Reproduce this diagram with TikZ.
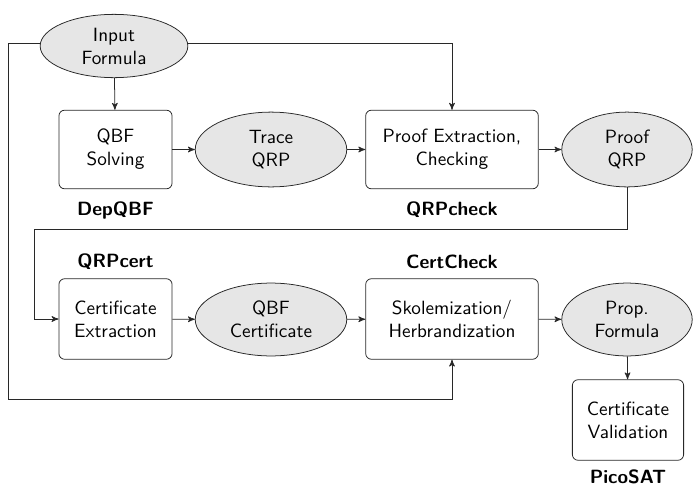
\documentclass[tikz,border=0pt]{standalone}
\usepackage{tikz}
\usetikzlibrary{arrows,shapes.geometric,positioning}
\definecolor{datafill}{RGB}{230,230,230}
\definecolor{linegray}{RGB}{40,40,40}

\tikzset{
	proc/.style={draw=linegray, rounded corners=3pt, align=center, font=\sffamily, inner sep=0pt, minimum height=41pt},
	data/.style={ellipse, draw=linegray, fill=datafill, align=center, font=\sffamily, inner sep=0pt},
	tool/.style={font=\sffamily\bfseries},
	flow/.style={->, >=stealth', draw=linegray}
}

\begin{document}
\begin{tikzpicture}[x=0.018326cm, y=-0.018326cm]
		\useasboundingbox (0,0) rectangle (693,486);
		% first row
		\node[data, minimum width=77pt, minimum height=33pt] (inp) at (114,46) {Input\\Formula};
		\node[proc, minimum width=59pt] (solve) at (115.5,149.5) {QBF\\Solving};
		\node[data, minimum width=79pt, minimum height=39pt] (trace) at (271,149.5) {Trace\\QRP};
		\node[proc, minimum width=90pt] (check) at (452,149.5) {Proof Extraction,\\Checking};
		\node[data, minimum width=68pt, minimum height=39pt] (proof) at (627,149.5) {Proof\\QRP};
		\node[tool] (depqbf) at (115.5,210) {DepQBF};
		\node[tool] (qrpcheck) at (452,210) {QRPcheck};
		% second row
		\node[proc, minimum width=59pt, minimum height=42pt] (extr) at (115.5,319) {Certificate\\Extraction};
		\node[data, minimum width=79pt, minimum height=38pt] (cert) at (271,319.5) {QBF\\Certificate};
		\node[proc, minimum width=90pt, minimum height=42pt] (skol) at (452,319) {Skolemization/\\Herbrandization};
		\node[data, minimum width=68pt, minimum height=38pt] (prop) at (627,319.5) {Prop.\\Formula};
		\node[proc, minimum width=58pt, minimum height=42pt] (valid) at (628,420) {Certificate\\Validation};
		\node[tool] (qrpcert) at (115.5,262) {QRPcert};
		\node[tool] (certcheck) at (452,262) {CertCheck};
		\node[tool] (picosat) at (628,477) {PicoSAT};
		% bends
		\coordinate (topleft) at (8,43);
		\coordinate (botleft) at (8,399);
		\coordinate (midright) at (627,229);
		\coordinate (midleft) at (34,229);
		\coordinate (topright) at (452,43);
		% connectors
		\draw[flow] (inp) -- (solve);
		\draw[flow] (solve) -- (trace);
		\draw[flow] (trace) -- (check);
		\draw[flow] (check) -- (proof);
		\draw[flow] (inp.east |- topright) -- (topright) -- (check);
		\draw[flow] (proof) -- (midright) -- (midleft) |- (extr);
		\draw[flow] (extr) -- (cert);
		\draw[flow] (cert) -- (skol);
		\draw[flow] (skol) -- (prop);
		\draw[flow] (prop) -- (valid);
		\draw[flow] (inp.west |- topleft) -- (topleft) -- (botleft) -| (skol);
\end{tikzpicture}
\end{document}
